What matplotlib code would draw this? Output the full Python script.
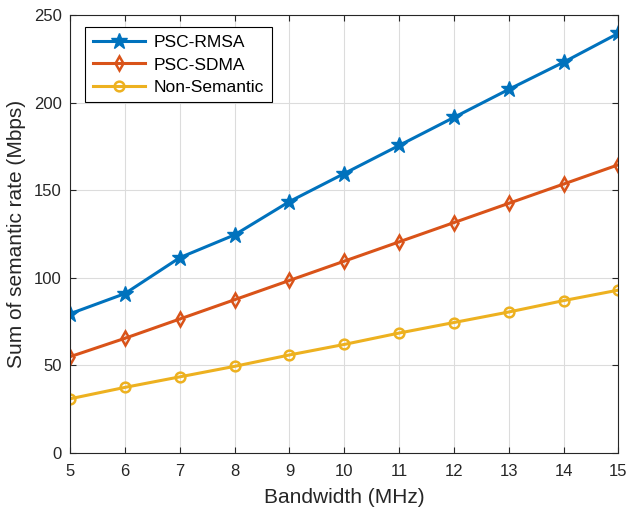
import matplotlib
matplotlib.use("Agg")
import matplotlib.pyplot as plt

plt.rcParams['font.family'] = ['Liberation Sans', 'DejaVu Sans']

bandwidth = [5, 6, 7, 8, 9, 10, 11, 12, 13, 14, 15]
rmsa = [79.5, 91, 111.5, 124.5, 143.5, 159.5, 175.5, 191.5, 207.5, 223, 239.5]
sdma = [55, 65.5, 76.5, 87.5, 98.5, 109.5, 120.5, 131.5, 142.5, 153.5, 164.5]
nonsem = [31, 37.5, 43.5, 49.5, 56, 62, 68.5, 74.5, 80.5, 87, 93]
xticks = list(range(5, 16))
yticks = [0, 50, 100, 150, 200, 250]

fig = plt.figure(figsize=(6.26, 5.12), dpi=100)
ax = fig.add_axes([0.112, 0.115, 0.876, 0.856])

c1 = (0, 0.447, 0.741)
c2 = (0.85, 0.325, 0.098)
c3 = (0.929, 0.694, 0.125)

ax.plot(bandwidth, rmsa, color=c1, lw=2.2, marker='*', ms=12, label='PSC-RMSA')
ax.plot(bandwidth, sdma, color=c2, lw=2.2, marker='d', ms=7, mfc='none', mew=1.8, label='PSC-SDMA')
ax.plot(bandwidth, nonsem, color=c3, lw=2.2, marker='o', ms=7, mfc='none', mew=1.8, label='Non-Semantic')

ax.set_xlim(5, 15)
ax.set_ylim(0, 250)
ax.set_xticks(xticks)
ax.set_yticks(yticks)
ax.grid(True, color='#dcdcdc', lw=0.8)
ax.set_axisbelow(True)
ax.tick_params(labelsize=12, direction='in', length=4, top=True, right=True, colors='#262626')
ax.tick_params(axis='x', pad=8)
ax.tick_params(axis='y', pad=6)
for s in ax.spines.values():
    s.set_color('#262626')
    s.set_linewidth(0.8)
ax.set_xlabel('Bandwidth (MHz)', fontsize=15, color='#262626', labelpad=6)
ax.set_ylabel('Sum of semantic rate (Mbps)', fontsize=15, color='#262626', labelpad=6)

leg = ax.legend(loc='upper left', fontsize=12.5, fancybox=False, edgecolor='black',
                framealpha=1, handlelength=3, borderaxespad=0.6, labelspacing=0.4,
                borderpad=0.45, handletextpad=0.5, bbox_to_anchor=(0.008, 0.995))
leg.get_frame().set_linewidth(0.8)

fig.savefig('out.png', dpi=100)
